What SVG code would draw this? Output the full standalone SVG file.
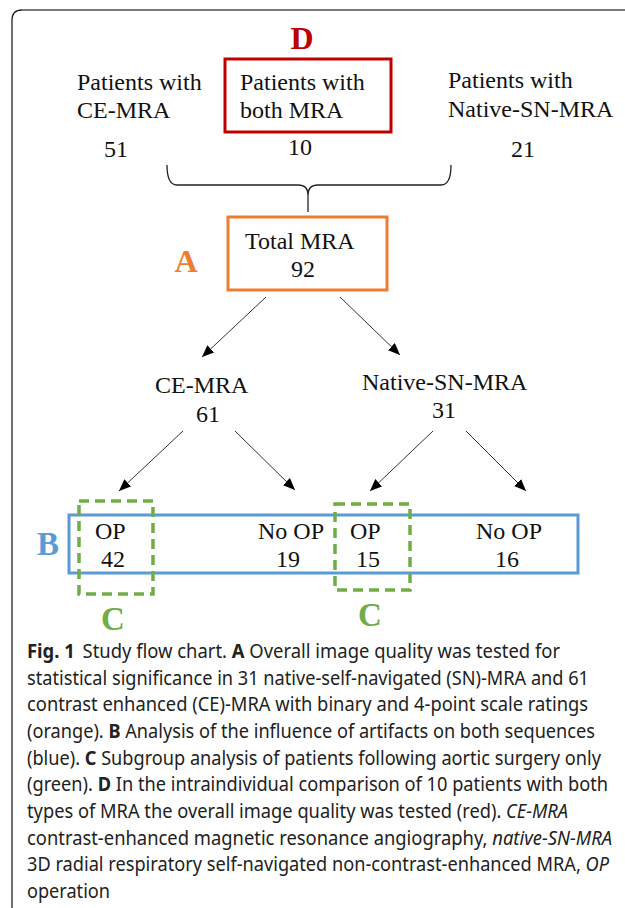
<svg xmlns="http://www.w3.org/2000/svg" width="625" height="908" viewBox="0 0 625 908">
<style>
.t{font-family:"Liberation Serif","Times New Roman",serif;font-size:24px;fill:#111}
.m{text-anchor:middle}
.lbl{font-family:"Liberation Serif","Times New Roman",serif;font-weight:bold;text-anchor:middle}
.cap{font-family:"Noto Sans","Open Sans",sans-serif;font-size:19px;fill:#222}
.b{font-weight:bold}
.i{font-style:italic}
.arr{stroke:#333;stroke-width:1;fill:none;marker-end:url(#ah)}
</style>
<defs>
<marker id="ah" viewBox="0 0 12 10" refX="12" refY="5" markerWidth="12" markerHeight="10" markerUnits="userSpaceOnUse" orient="auto">
<path d="M0,0 L12,5 L0,10 z" fill="#000"/>
</marker>
</defs>
<rect width="625" height="908" fill="#fff"/>
<g id="frame">
<path d="M12,908 V20 Q12,10 22,10" fill="none" stroke="#222" stroke-width="1.3"/>
<path d="M22,10 H625" fill="none" stroke="#7a7a7a" stroke-width="2"/>
</g>
<g id="ce-patients">
<text class="t" x="77" y="90">Patients with</text>
<text class="t" x="77" y="118">CE-MRA</text>
<text class="t m" x="116" y="157">51</text>
</g>
<g id="both-patients">
<rect x="225" y="59" width="166" height="73" fill="none" stroke="#C00000" stroke-width="3"/>
<text class="t" x="240" y="90">Patients with</text>
<text class="t" x="240" y="118">both MRA</text>
<text class="t m" x="300" y="155">10</text>
<text class="lbl" x="302" y="49" font-size="32" fill="#C00000">D</text>
</g>
<g id="native-patients">
<text class="t" x="448" y="88">Patients with</text>
<text class="t" x="448" y="117">Native-SN-MRA</text>
<text class="t m" x="523" y="157">21</text>
</g>
<g id="total">
<rect x="228" y="217" width="159" height="73" fill="none" stroke="#ED7D31" stroke-width="3"/>
<text class="t" x="245" y="249">Total MRA</text>
<text class="t m" x="303" y="277">92</text>
<text class="lbl" x="186" y="272" font-size="32" fill="#ED7D31">A</text>
</g>
<g id="ce-mra">
<text class="t" x="155" y="393">CE-MRA</text>
<text class="t m" x="208" y="422">61</text>
</g>
<g id="native-mra">
<text class="t" x="362" y="390">Native-SN-MRA</text>
<text class="t m" x="444" y="418">31</text>
</g>
<g id="artifacts">
<rect x="69" y="515" width="509" height="58" fill="none" stroke="#5B9BD5" stroke-width="3"/>
<text class="lbl" x="48" y="555" font-size="33" fill="#5B9BD5">B</text>
</g>
<g id="ce-op">
<text class="t" x="95" y="539">OP</text>
<text class="t m" x="113" y="567">42</text>
</g>
<g id="ce-noop">
<text class="t" x="258" y="539">No OP</text>
<text class="t m" x="288" y="567">19</text>
</g>
<g id="native-op">
<text class="t" x="350" y="539">OP</text>
<text class="t m" x="368" y="567">15</text>
</g>
<g id="native-noop">
<text class="t" x="476" y="539">No OP</text>
<text class="t m" x="507" y="567">16</text>
</g>
<g id="surgery-subgroups" fill="none" stroke="#70AD47" stroke-width="3.5" stroke-dasharray="10 6">
<rect x="79" y="501" width="74" height="93"/>
<rect x="335" y="504" width="75" height="86"/>
</g>
<g id="c-labels">
<text class="lbl" x="113" y="630" font-size="33" fill="#70AD47">C</text>
<text class="lbl" x="370" y="626" font-size="33" fill="#70AD47">C</text>
</g>
<g id="connectors">
<path d="M167,165 Q167,185 177,185 H298 Q308,185 308,195 V212 M451,165 Q451,185 441,185 H318 Q308,185 308,195" fill="none" stroke="#222" stroke-width="1.3"/>
<line class="arr" x1="266" y1="297" x2="202" y2="357"/>
<line class="arr" x1="340" y1="297" x2="400" y2="355"/>
<line class="arr" x1="183" y1="431" x2="119" y2="491"/>
<line class="arr" x1="235" y1="431" x2="295" y2="490"/>
<line class="arr" x1="433" y1="431" x2="370" y2="491"/>
<line class="arr" x1="466" y1="431" x2="526" y2="491"/>
</g>
<g id="caption">
<text class="cap" x="27" y="658" textLength="533" lengthAdjust="spacingAndGlyphs"><tspan class="b">Fig. 1</tspan><tspan dx="8">Study flow chart. </tspan><tspan class="b">A</tspan> Overall image quality was tested for</text>
<text class="cap" x="27" y="684.7" textLength="562" lengthAdjust="spacingAndGlyphs">statistical significance in 31 native-self-navigated (SN)-MRA and 61</text>
<text class="cap" x="27" y="711.3" textLength="561" lengthAdjust="spacingAndGlyphs">contrast enhanced (CE)-MRA with binary and 4-point scale ratings</text>
<text class="cap" x="27" y="738" textLength="568" lengthAdjust="spacingAndGlyphs">(orange). <tspan class="b">B</tspan> Analysis of the influence of artifacts on both sequences</text>
<text class="cap" x="27" y="764.7" textLength="574" lengthAdjust="spacingAndGlyphs">(blue). <tspan class="b">C</tspan> Subgroup analysis of patients following aortic surgery only</text>
<text class="cap" x="27" y="791.3" textLength="581" lengthAdjust="spacingAndGlyphs">(green). <tspan class="b">D</tspan> In the intraindividual comparison of 10 patients with both</text>
<text class="cap" x="27" y="818" textLength="541" lengthAdjust="spacingAndGlyphs">types of MRA the overall image quality was tested (red). <tspan class="i">CE-MRA</tspan></text>
<text class="cap" x="27" y="844.7" textLength="585" lengthAdjust="spacingAndGlyphs">contrast-enhanced magnetic resonance angiography, <tspan class="i">native-SN-MRA</tspan></text>
<text class="cap" x="27" y="871.3" textLength="582" lengthAdjust="spacingAndGlyphs">3D radial respiratory self-navigated non-contrast-enhanced MRA, <tspan class="i">OP</tspan></text>
<text class="cap" x="27" y="898" textLength="83" lengthAdjust="spacingAndGlyphs">operation</text>
</g>
</svg>
